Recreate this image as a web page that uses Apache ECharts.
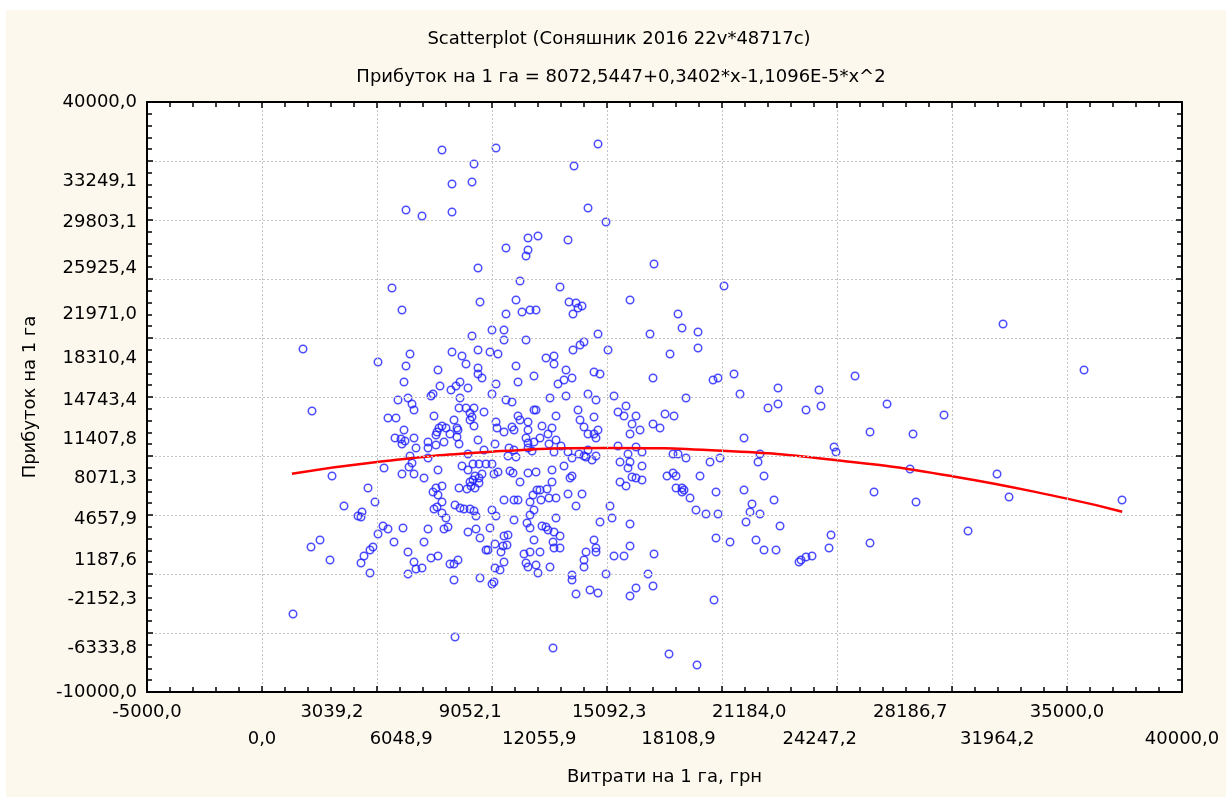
<!DOCTYPE html>
<html>
<head>
<meta charset="utf-8">
<script src="https://cdn.jsdelivr.net/npm/echarts@6/dist/echarts.min.js"></script>
<style>
  html, body { margin: 0; padding: 0; background: #fff; }
  #chart { width: 1226px; height: 797px; }
</style>
</head>
<body>
<div id="chart"></div>
<script>
// Витрати на 1 га (x) і Прибуток на 1 га (y)
var costs = [
  7826, 10174, 14609, 9218, 13566, 8261, 9131, 6261, 6957, 8261, 14174, 14957, 11566, 12000, 13305, 10609, 11566, 11479, 17044, 9392,
  5652, 6087, 9479, 10609, 10000, 10522, 10522, 9131, 5044, 6435, 6261, 8261, 8696, 8870, 9392, 9913, 10261, 7652, 9392, 9392,
  9566, 6174, 7739, 8609, 8435, 8218, 8957, 7435, 7348, 10174, 10000, 10609, 5913, 6348, 6522, 6609, 8609, 8566, 8870, 9218,
  9044, 9131, 9653, 9044, 9218, 7478, 5478, 5826, 6174, 5783, 6044, 6217, 6087, 6609, 6696, 7696, 7826, 8000, 7609, 7565,
  8174, 8348, 8478, 8522, 8478, 8566, 7913, 7218, 7565, 7218, 7218, 9392, 10174, 10218, 10522, 10131, 9653, 8957, 6435, 6522,
  6392, 6609, 6087, 7044, 5305, 7652, 8696, 8957, 9174, 9435, 9739, 10000, 10261, 10087, 9261, 9566, 9435, 9174, 9044, 8913,
  9087, 9435, 9261, 8566, 7826, 7565, 7652, 7435, 7826, 7478, 7609, 7826, 8000, 7913, 8087, 8392, 8609, 8783, 9044, 9218,
  9305, 10000, 10174, 10522, 4913, 4609, 4348, 4305, 5261, 5478, 5044, 6131, 7218, 5739, 7044, 8957, 9305, 9479, 9913, 10522,
  10131, 10479, 9739, 9826, 10392, 4696, 4435, 4305, 6348, 6609, 6696, 6957, 6348, 7348, 7652, 8174, 8348, 8522, 8348, 9479,
  10000, 10087, 10522, 10131, 10348, 4696,
  11218, 12957, 16001, 11044, 13348, 13653, 13914, 13740, 13522, 11305, 11653, 11914, 11479, 14609, 16870, 15044, 14000, 13827, 13522, 12348,
  12696, 12696, 11044, 13218, 14435, 14696, 13479, 13131, 12870, 11826, 11131, 17001, 14174, 14522, 12522, 13218, 15305, 10870, 15827, 15479,
  15740, 16262, 16088, 16436, 16001, 17001, 11826, 11914, 12783, 13740, 14435, 13827, 14000, 14174, 14609, 14435, 14522, 11131, 11218, 11566,
  10870, 10957, 11566, 11479, 12174, 12609, 12435, 12087, 12783, 12479, 11566, 11826, 11566, 10740, 10957, 11740, 11044, 12696, 13001, 13305,
  13479, 13783, 14000, 14088, 14174, 14348, 14522, 15479, 16262, 15914, 16522, 15566, 16001, 15914, 16522, 10783, 10913, 11566, 11914, 12609,
  13131, 11218, 13392, 13479, 12609, 12392, 15566, 15827, 16088, 16262, 16522, 11957, 12087, 12131, 11783, 12479, 12783, 13305, 13914, 13653,
  11653, 10957, 11131, 11826, 11653, 11522, 11653, 10957, 12783, 12174, 12348, 12435, 12696, 12957, 11826, 12653, 12696, 12957, 14696, 15131,
  15218, 16001, 14435, 14522, 14522, 14088, 14000, 14000, 11392, 11653, 12087, 11479, 11566, 11914, 12000, 12522, 15305, 15740, 16001, 14957,
  13479, 13479, 13653, 14261, 14609, 16001, 16262, 16783, 17044, 17001, 10696, 10653, 10696,
  20088, 18088, 18262, 18957, 17740, 18957, 19610, 19827, 20523, 20783, 22436, 22001, 22436, 18436, 17522, 17914, 17305, 20957, 17870, 18088,
  18436, 19479, 19914, 21653, 21566, 21827, 17609, 17870, 18001, 19044, 18001, 18262, 18262, 18349, 18610, 19740, 20957, 22262, 21305, 21218,
  21653, 21044, 18870, 19305, 19827, 22523, 19740, 20349, 21479, 21827, 22349, 19653, 23349,
  1783, 2174, 1348, 3044, 2131, 2522, 2957, 3565, 4174, 4826, 8392, 12653, 17696, 18914, 32219, 35741, 25784, 27175, 29653, 28305,
  26436, 24871, 24958, 24218, 24305, 23653, 23436, 23653, 23914, 24740, 24653, 26436, 26610, 28175, 28436, 30697, 31958, 32480, 37393
];
var profits = [
  35934, 36104, 36443, 34748, 34578, 33053, 33222, 30849, 30341, 30680, 31019, 29832, 28476, 28646, 28307, 27629, 27459, 26951, 26273, 25934,
  24239, 22374, 23052, 22035, 20679, 20679, 19832, 20171, 17967, 18645, 17628, 18815, 18476, 17798, 18984, 18815, 18645, 17289, 17459, 16950,
  16611, 16272, 15933, 16272, 15933, 15594, 15764, 15255, 15086, 16103, 15255, 14747, 14747, 14916, 14408, 13899, 14916, 14069, 14069, 14069,
  13645, 13306, 13730, 13052, 12543, 13391, 13221, 13221, 12204, 11526, 11441, 11272, 11018, 11526, 10679, 12374, 12543, 12374, 12035, 11780,
  11865, 13052, 12374, 12204, 11611, 11018, 11187, 11187, 10933, 10679, 9831, 11357, 12882, 12374, 12035, 11018, 10509, 10170, 10001, 9407,
  9068, 8475, 8475, 8136, 8984, 8814, 9153, 8814, 9323, 9323, 9323, 9323, 8645, 8475, 8306, 8475, 8136, 7967, 7797, 7204,
  7458, 7712, 7289, 7289, 7458, 7289, 6695, 6950, 6102, 5509, 5678, 5170, 4746, 3814, 3983, 5848, 5594, 5509, 5509, 5339,
  4916, 5424, 4916, 6272, 6102, 7289, 5255, 4831, 4068, 3814, 3390, 3899, 3814, 2712, 2712, 3560, 3814, 3051, 3899, 3221,
  2543, 2373, 2034, 2034, 1865, 2034, 1526, 932, 1865, 1017, 424, 509, 0, 1356, 1526, 848, 848, 1187, -509, -339,
  -848, -678, 1017, 509, 339, 85,
  24832, 24323, 23222, 23222, 23052, 22967, 22713, 22544, 22035, 22205, 22374, 22374, 19832, 20340, 20340, 18984, 19662, 19408, 18984, 18306,
  18476, 17798, 17628, 17289, 17120, 16950, 16611, 16442, 16103, 16781, 16272, 16611, 15255, 14747, 14916, 15086, 15086, 14577, 14238, 13730,
  13391, 13391, 12713, 12204, 11865, 12713, 13899, 13899, 13391, 13899, 13306, 13052, 12458, 11865, 12204, 11865, 11526, 13391, 13052, 12882,
  12458, 12204, 12204, 11526, 12543, 12374, 11865, 11526, 11357, 11018, 11102, 11187, 10679, 10679, 10509, 10424, 9916, 10340, 10848, 10340,
  9831, 10170, 10001, 9916, 10509, 9662, 10001, 10848, 10763, 10170, 10340, 9492, 9492, 8984, 9153, 8729, 8560, 8560, 8645, 8814,
  9153, 7797, 8136, 8306, 7797, 7204, 7797, 7458, 8221, 8136, 7967, 7119, 7119, 6272, 6695, 6441, 6441, 6780, 6780, 5763,
  6102, 6272, 6272, 5424, 5000, 4322, 3899, 4577, 4746, 4068, 3983, 3729, 3560, 3221, 2882, 2712, 2204, 2204, 4407, 5763,
  4746, 4238, 2882, 2204, 1865, 1865, 1187, 593, 1695, 1865, 1865, 932, 593, 763, 85, 593, 1526, 1526, 2373, 0,
  -85, -509, -1695, -1356, -1610, -1865, -1187, 0, 1695, -1017, 3305, 2458, 10001,
  24408, 22035, 20849, 20510, 18645, 19154, 16442, 16611, 16950, 15255, 15764, 14069, 14408, 14916, 13560, 13391, 12374, 11526, 10170, 10170,
  9831, 9492, 9831, 10170, 9492, 8306, 8306, 8560, 8306, 8306, 7289, 7289, 6950, 7119, 6441, 6950, 7119, 6272, 5933, 5255,
  5085, 4407, 5424, 5085, 5085, 4068, 3051, 2712, 2882, 2034, 2034, -2204, 1017,
  19069, 13814, -3390, 8306, 2288, 2882, 1187, 5763, 4916, 2288, -5339, -6272, -6780, -7712, 21188, 17289, 16781, 14408, 13475, 11865,
  12035, 10763, 10340, 15594, 14238, 13899, 1187, 1441, 1526, 3305, 2204, 2627, 6950, 8899, 6102, 3644, 8475, 6526, 6272
];

// fitted curve
var fitX = [1300, 5000, 10000, 15000, 20000, 25000, 30000, 35000, 37400];
var fitY = [8497, 9496, 10365, 10679, 10438, 9642, 8292, 6387, 5275];

// tick labels as printed on the axes (two rows on x)
var xLabelsRow1 = [-5000, 3039.2, 9052.1, 15092.3, 21184.0, 28186.7, 35000.0];
var xLabelsRow2 = [0, 6048.9, 12055.9, 18108.9, 24247.2, 31964.2, 40000.0];
var yLabels = [-10000, -6333.8, -2152.3, 1187.6, 4657.9, 8071.3, 11407.8, 14743.4, 18310.4, 21971.0, 25925.4, 29803.1, 33249.1, 40000.0];

var FONT = 'DejaVu Sans';
function fmt (v) { return Number(v).toFixed(1).replace('.', ','); }

var points = costs.map(function (c, i) { return [c, profits[i]]; });
var fitLine = fitX.map(function (x, i) { return [x, fitY[i]]; });

function frameAxis (min, position, extra) {
  var ax = {
    type: 'value', min: min, max: 40000, interval: 5000, position: position,
    axisLine: { show: true, onZero: false, lineStyle: { color: '#000', width: 2 } },
    axisTick: { show: true, inside: true, length: 6, lineStyle: { color: '#000', width: 1.5 } },
    minorTick: { show: true, splitNumber: 5, length: 5, lineStyle: { color: '#000', width: 1.5 } },
    axisLabel: { show: false },
    splitLine: { show: false },
    z: 5
  };
  return Object.assign(ax, extra || {});
}
function labelAxis (values, margin) {
  return {
    type: 'value', min: -5000, max: 40000, position: 'bottom',
    axisLine: { show: false }, axisTick: { show: false }, splitLine: { show: false },
    axisLabel: {
      customValues: values, margin: margin, hideOverlap: false,
      showMinLabel: true, showMaxLabel: true,
      color: '#000', fontFamily: FONT, fontSize: 18, formatter: fmt
    }
  };
}
var gridLine = { show: true, lineStyle: { color: '#c4c4c4', type: [2, 2], width: 1 } };
var nameStyle = { color: '#000', fontFamily: FONT, fontSize: 18 };

var chart = echarts.init(document.getElementById('chart'));
chart.setOption({
  backgroundColor: '#fff',
  animation: false,
  graphic: [
    { type: 'rect', z: -10, silent: true, shape: { x: 6, y: 10, width: 1220, height: 787 }, style: { fill: '#fdf8ee' } },
    { type: 'text', style: { x: 619, y: 39, text: 'Scatterplot (Соняшник 2016 22v*48717c)', align: 'center', verticalAlign: 'middle', fontFamily: FONT, fontSize: 18, fill: '#000' } },
    { type: 'text', style: { x: 621, y: 77, text: 'Прибуток на 1 га = 8072,5447+0,3402*x-1,1096E-5*x^2', align: 'center', verticalAlign: 'middle', fontFamily: FONT, fontSize: 18, fill: '#000' } }
  ],
  grid: {
    left: 147, right: 44, top: 102, bottom: 105,
    show: true, backgroundColor: '#fff', borderWidth: 0
  },
  xAxis: [
    frameAxis(-5000, 'bottom', {
      name: 'Витрати на 1 га, грн', nameLocation: 'middle', nameGap: 76,
      nameTextStyle: nameStyle, splitLine: gridLine
    }),
    frameAxis(-5000, 'top'),
    labelAxis(xLabelsRow1, 11),
    labelAxis(xLabelsRow2, 38)
  ],
  yAxis: [
    frameAxis(-10000, 'left', {
      name: 'Прибуток на 1 га', nameLocation: 'middle', nameGap: 108,
      nameTextStyle: nameStyle, splitLine: gridLine
    }),
    frameAxis(-10000, 'right'),
    {
      type: 'value', min: -10000, max: 40000, position: 'left',
      axisLine: { show: false }, axisTick: { show: false }, splitLine: { show: false },
      axisLabel: {
        customValues: yLabels, margin: 10, hideOverlap: false,
        showMinLabel: true, showMaxLabel: true,
        color: '#000', fontFamily: FONT, fontSize: 18, formatter: fmt
      }
    }
  ],
  series: [
    {
      type: 'scatter', data: points, xAxisIndex: 0, yAxisIndex: 0,
      symbol: 'circle', symbolSize: 7.5,
      itemStyle: { color: 'rgba(0,0,0,0)', borderColor: '#1f1fff', borderWidth: 1.5 },
      z: 3
    },
    {
      type: 'line', data: fitLine, xAxisIndex: 0, yAxisIndex: 0,
      smooth: true, showSymbol: false,
      lineStyle: { color: '#ff0000', width: 2.5 },
      z: 4
    }
  ]
});
</script>
</body>
</html>
